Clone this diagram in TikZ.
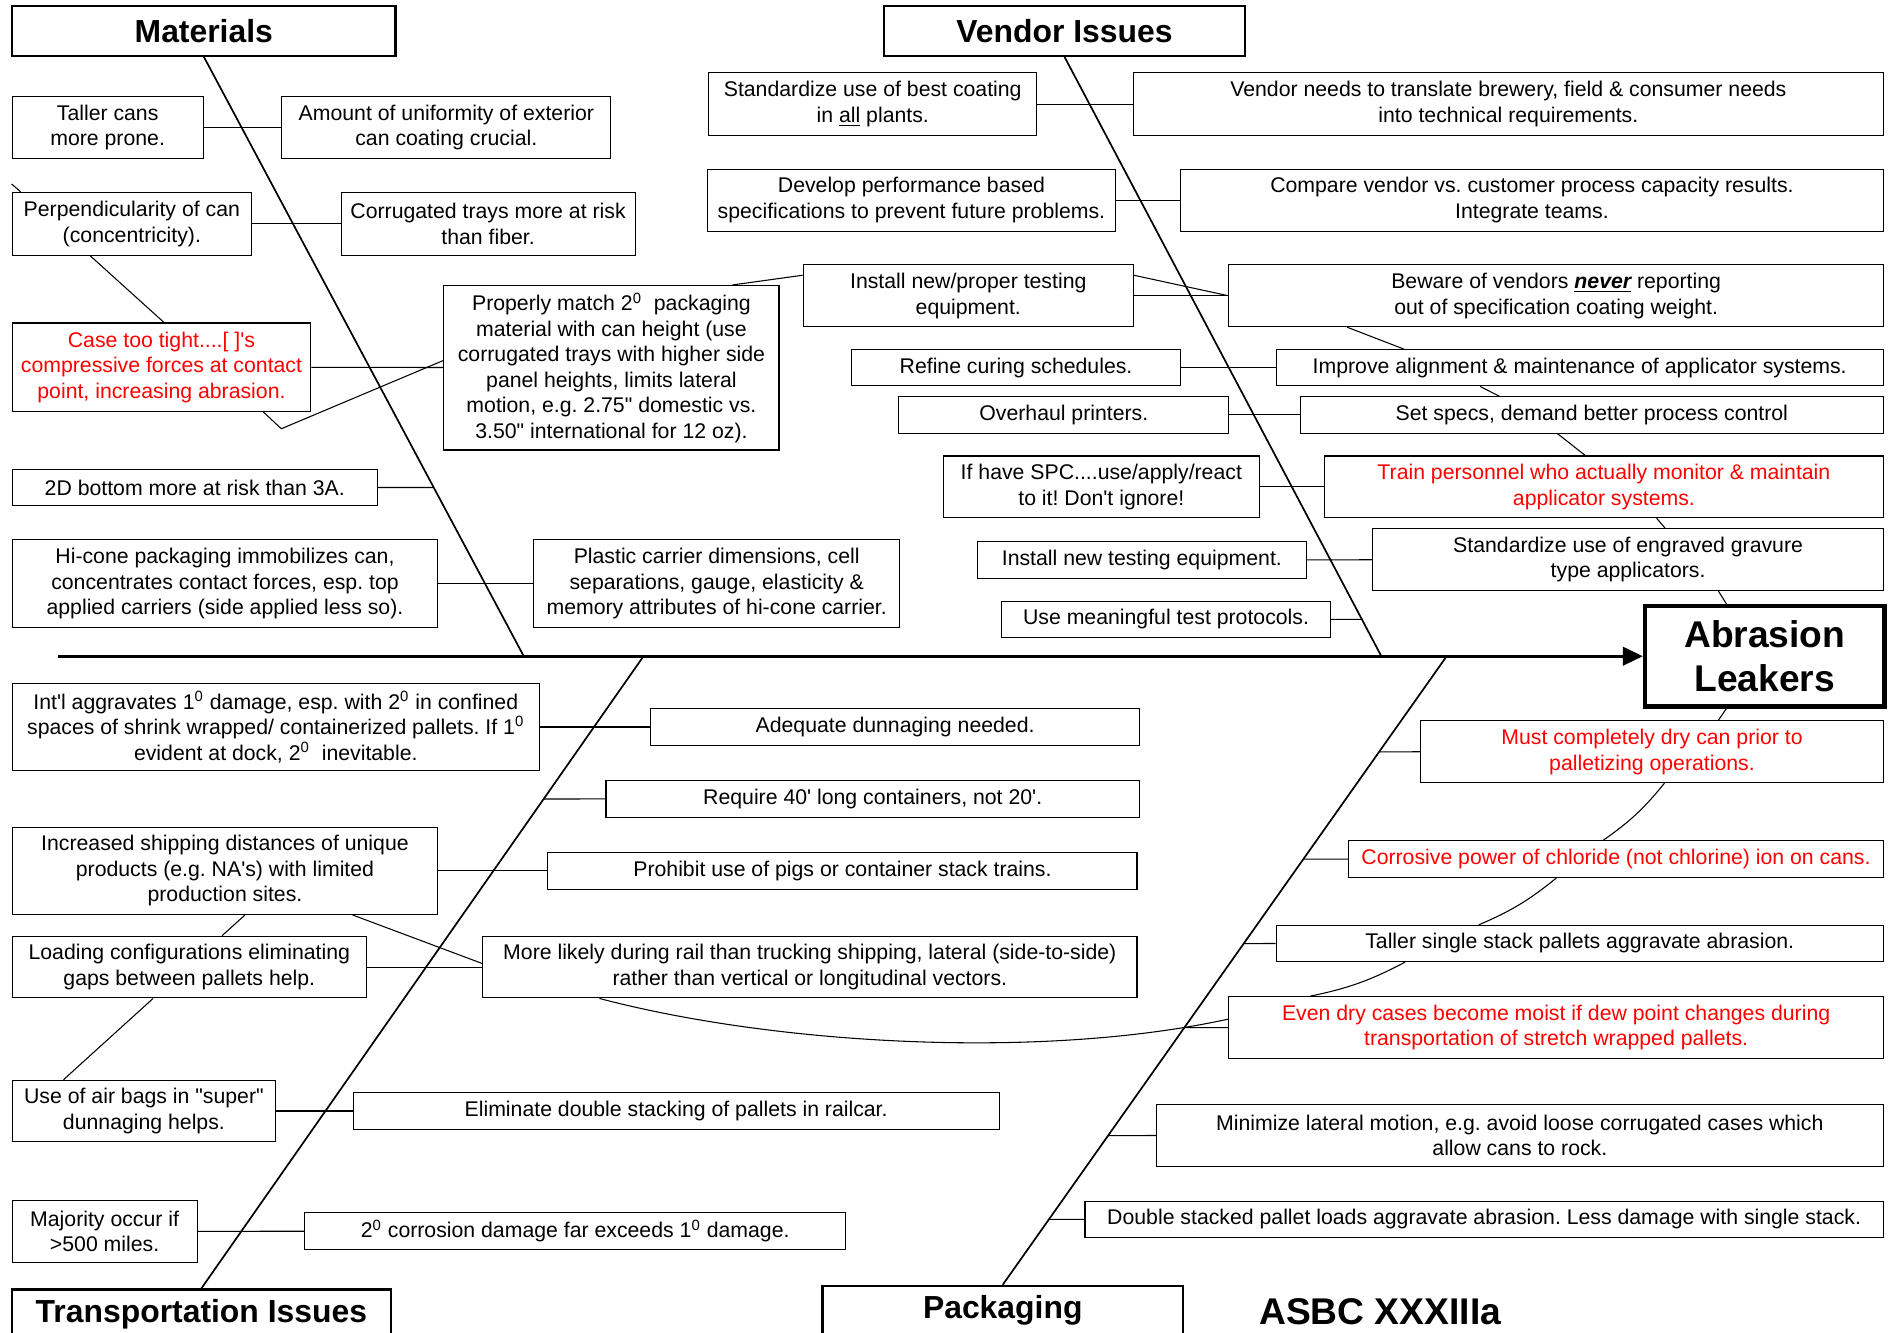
\documentclass[tikz,border=0pt]{standalone}
\usepackage{fontspec}
\newfontfamily\arialfont{Liberation Sans}
\usetikzlibrary{calc,arrows.meta}
\frenchspacing

\tikzset{
  box/.style={draw, line width=0.5pt, align=center, inner sep=1pt, font=\arialfont\fontsize{10}{12}\selectfont},
  redbox/.style={box, text=red},
  headbox/.style={draw, line width=1pt, inner sep=1pt, font=\arialfont\bfseries\fontsize{15}{18}\selectfont},
  wh/.style 2 args={minimum width=#1*0.2mm, minimum height=#2*0.2mm},
  bone/.style={line width=0.8pt},
  link/.style={line width=0.5pt},
}

\begin{document}
\begin{tikzpicture}[x=0.2mm, y=-0.2mm]
    \useasboundingbox (0,0) rectangle (1565,1102);

    % Head and spine
    \node (effect) [draw, line width=2pt, align=center, inner sep=1pt, wh={198}{83},
        font=\arialfont\bfseries\fontsize{17.5}{21}\selectfont, at={(1459,542.5)}] {Abrasion\\Leakers};
    \coordinate (tail) at (48,542.5);
    \draw[line width=1.6pt, -{Triangle[length=3.3mm,width=3mm]}] (tail) -- (effect.west);
    \node (asbc) [font=\arialfont\bfseries\fontsize{17.5}{21}\selectfont, at={(1141,1084)}] {ASBC XXXIIIa};

    % Bones
    \node (materials) [headbox, wh={317}{41}, at={(168.5,25.5)}] {Materials};
    \node (vendor) [headbox, wh={298}{41}, at={(880,25.5)}] {Vendor Issues};
    \node (transport) [headbox, wh={313}{41}, at={(166.5,1086.5)}] {Transportation Issues};
    \node (packaging) [headbox, wh={298}{41}, at={(829,1083.5)}] {Packaging};
    \coordinate (matfoot) at (433,542.5);
    \coordinate (venfoot) at (1142,542.5);
    \coordinate (trafoot) at (532,542.5);
    \coordinate (pacfoot) at (1196,542.5);
    \draw[bone] (materials.south) -- (matfoot);
    \draw[bone] (vendor.south) -- (venfoot);
    \draw[bone] (trafoot) -- (transport.north);
    \draw[bone] (pacfoot) -- (packaging.north);

    % Materials
    \node (tallercans) [box, wh={158}{51}, at={(89,105.5)}] {Taller cans\\more prone.};
    \node (uniformity) [box, wh={272}{51}, at={(369,105.5)}] {Amount of uniformity of exterior\\can coating crucial.};
    \node (perpend) [box, wh={198}{52}, at={(109,185)}] {Perpendicularity of can\\(concentricity).};
    \node (corrtrays) [box, wh={243}{52}, at={(403.5,185)}] {Corrugated trays more at risk\\than fiber.};
    \node (casetight) [redbox, wh={247}{73}, at={(133.5,303.5)}] {Case too tight....[ ]'s\\compressive forces at contact\\point, increasing abrasion.};
    \node (properly) [box, wh={277}{136}, at={(505.5,304)}] {Properly match 2\textsuperscript{0}~ packaging\\material with can height (use\\corrugated trays with higher side\\panel heights, limits lateral\\motion, e.g. 2.75" domestic vs.\\3.50" international for 12 oz).};
    \node (bottom2d) [box, wh={302}{30}, at={(161,403)}] {2D bottom more at risk than 3A.};
    \node (hicone) [box, wh={352}{73}, at={(186,482.5)}] {Hi-cone packaging immobilizes can,\\concentrates contact forces, esp. top\\applied carriers (side applied less so).};
    \node (plastic) [box, wh={303}{73}, at={(592.5,482.5)}] {Plastic carrier dimensions, cell\\separations, gauge, elasticity \&\\memory attributes of hi-cone carrier.};

    \draw[link] (tallercans) -- (uniformity);
    \draw[link] (perpend) -- (corrtrays);
    \draw[link] ($(perpend.north west)+(7.5,0)$) -- ++(-7.5,-6.5);
    \draw[link] ($(perpend.south west)+(65,0)$) -- ($(casetight.north west)+(126,0)$);
    \draw[link] (casetight) -- (properly);
    \draw[link] ($(casetight.south west)+(208,0)$) -- ++(15,14) -- ($(properly.west)+(0,-6)$);
    \draw[link] (bottom2d.east) -- (intersection of bottom2d.east--bottom2d.west and materials.south--matfoot);
    \draw[link] (hicone) -- (plastic);

    % Vendor issues
    \node (bestcoat) [box, wh={271}{52}, at={(721.5,86)}] {Standardize use of best coating\\in \underline{all} plants.};
    \node (translate) [box, wh={620}{52}, at={(1247,86)}] {Vendor needs to translate brewery, field \& consumer needs\\into technical requirements.};
    \node (develop) [box, wh={337}{51}, at={(753.5,165.5)}] {Develop performance based\\specifications to prevent future problems.};
    \node (compare) [box, wh={581}{51}, at={(1266.5,165.5)}] {Compare vendor vs. customer process capacity results.\\Integrate teams.};
    \node (installproper) [box, wh={273}{51}, at={(800.5,244.5)}] {Install new/proper testing\\equipment.};
    \node (beware) [box, wh={541}{51}, at={(1286.5,244.5)}] {Beware of vendors \textbf{\textit{\underline{never}}} reporting\\out of specification coating weight.};
    \node (curing) [box, wh={272}{30}, at={(840,304)}] {Refine curing schedules.};
    \node (align) [box, wh={502}{30}, at={(1306,304)}] {Improve alignment \& maintenance of applicator systems.};
    \node (printers) [box, wh={273}{30}, at={(879.5,343)}] {Overhaul printers.};
    \node (specs) [box, wh={482}{30}, at={(1316,343)}] {Set specs, demand better process control};
    \node (spc) [box, wh={261}{51}, at={(910.5,402.5)}] {If have SPC....use/apply/react\\to it! Don't ignore!};
    \node (train) [redbox, wh={462}{51}, at={(1326,402.5)}] {Train personnel who actually monitor \& maintain\\applicator systems.};
    \node (installnew) [box, wh={272}{30}, at={(944,463)}] {Install new testing equipment.};
    \node (gravure) [box, wh={422}{51}, at={(1346,462.5)}] {Standardize use of engraved gravure\\type applicators.};
    \node (protocols) [box, wh={272}{30}, at={(964,512)}] {Use meaningful test protocols.};

    \draw[link] ($(properly.north west)+(239,0)$) -- ($(installproper.north west)+(0,9)$);
    \draw[link] (bestcoat) -- (translate);
    \draw[link] (develop) -- (compare);
    \draw[link] (installproper) -- (beware);
    \draw[link] ($(installproper.north east)+(0,9)$) -- (beware.west);
    \draw[link] ($(beware.south west)+(98,0)$) -- ($(align.north west)+(106,0)$);
    \draw[link] (curing) -- (align);
    \draw[link] ($(align.south west)+(169,0)$) -- ($(specs.north west)+(165,0)$);
    \draw[link] (printers) -- (specs);
    \draw[link] ($(specs.south west)+(213,0)$) -- ($(train.north west)+(216,0)$);
    \draw[link] (spc) -- (train);
    \draw[link] ($(train.south west)+(275,0)$) -- ($(gravure.north west)+(242,0)$);
    \draw[link] (installnew) -- (gravure);
    \draw[link] ($(gravure.south west)+(286,0)$) -- ($(effect.north west)+(69,0)$);
    \draw[link] (protocols.east) -- (intersection of protocols.east--protocols.west and vendor.south--venfoot);

    % Transportation issues
    \node (intl) [box, wh={436}{72}, at={(228,601)}] {Int'l aggravates 1\textsuperscript{0} damage, esp. with 2\textsuperscript{0} in confined\\spaces of shrink wrapped/ containerized pallets. If 1\textsuperscript{0}\\evident at dock, 2\textsuperscript{0}~ inevitable.};
    \node (dunnage) [box, wh={404}{30}, at={(740,601)}] {Adequate dunnaging needed.};
    \node (containers) [box, wh={441}{31}, at={(721.5,660.5)}] {Require 40' long containers, not 20'.};
    \node (shipping) [box, wh={352}{72}, at={(186,720)}] {Increased shipping distances of unique\\products (e.g. NA's) with limited\\production sites.};
    \node (pigs) [box, wh={487}{30}, at={(696.5,720)}] {Prohibit use of pigs or container stack trains.};
    \node (loading) [box, wh={293}{51}, at={(156.5,799.5)}] {Loading configurations eliminating\\gaps between pallets help.};
    \node (rail) [box, wh={541}{51}, at={(669.5,799.5)}] {More likely during rail than trucking shipping, lateral (side-to-side)\\rather than vertical or longitudinal vectors.};
    \node (airbags) [box, wh={218}{51}, at={(119,918.5)}] {Use of air bags in "super"\\dunnaging helps.};
    \node (doublerail) [box, wh={534}{30}, at={(559,918.5)}] {Eliminate double stacking of pallets in railcar.};
    \node (majority) [box, wh={153}{51}, at={(86.5,1018)}] {Majority occur if\\>500 miles.};
    \node (corrosion) [box, wh={447}{30.5}, at={(475.5,1017.75)}] {2\textsuperscript{0} corrosion damage far exceeds 1\textsuperscript{0} damage.};

    % Packaging
    \node (dry) [redbox, wh={382.5}{51}, at={(1365.75,621.5)}] {Must completely dry can prior to\\palletizing operations.};
    \node (chloride) [redbox, wh={442}{30.5}, at={(1336,710.25)}] {Corrosive power of chloride (not chlorine) ion on cans.};
    \node (tallstack) [box, wh={502}{30}, at={(1306,780)}] {Taller single stack pallets aggravate abrasion.};
    \node (dewpoint) [redbox, wh={541}{51}, at={(1286.5,849.5)}] {Even dry cases become moist if dew point changes during\\transportation of stretch wrapped pallets.};
    \node (lateral) [box, wh={601}{51.5}, at={(1256.5,938.75)}] {Minimize lateral motion, e.g. avoid loose corrugated cases which\\allow cans to rock.};
    \node (doublestack) [box, wh={660}{30}, at={(1227,1008)}] {Double stacked pallet loads aggravate abrasion. Less damage with single stack.};

    \draw[link] (intl) -- (dunnage);
    \draw[link] (containers.west) -- (intersection of containers.west--containers.east and trafoot--transport.north);
    \draw[link] (shipping) -- (pigs);
    \draw[link] ($(shipping.south west)+(193,0)$) -- ($(loading.north west)+(174,0)$);
    \draw[link] ($(shipping.south west)+(282,0)$) -- ($(rail.west)+(0,-3)$);
    \draw[link] (loading) -- (rail);
    \draw[link] ($(rail.south west)+(97,0)$) .. controls +(144,38) and +(-156,34) .. ($(dewpoint.west)+(0,-7)$);
    \draw[link] ($(loading.south west)+(117,0)$) -- ($(airbags.north west)+(43,0)$);
    \draw[link] (airbags) -- (doublerail);
    \draw[link] (majority) -- (corrosion);

    \draw[link] ($(effect.south west)+(69,0)$) -- ($(dry.north west)+(246.5,0)$);
    \draw[link] ($(dry.south west)+(202,0)$) to[bend left=8] ($(chloride.north west)+(211,0)$);
    \draw[link] ($(chloride.south west)+(172,0)$) to[bend left=8] ($(tallstack.north west)+(168,0)$);
    \draw[link] ($(tallstack.south west)+(107,0)$) to[bend left=8] ($(dewpoint.north west)+(67.5,0)$);
    \foreach \n in {dry,chloride,tallstack,dewpoint,lateral,doublestack}
        \draw[link] (\n.west) -- (intersection of \n.west--\n.east and pacfoot--packaging.north);
\end{tikzpicture}
\end{document}
